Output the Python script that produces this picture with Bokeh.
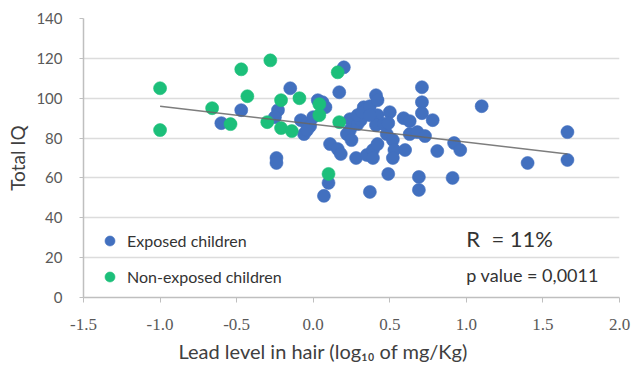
from bokeh.plotting import figure
from bokeh.models import Range1d, Label, Legend, LegendItem, FixedTicker, Title
from bokeh.embed import file_html
from bokeh.resources import INLINE

# ---- data ----
exposed_x = [-0.60, -0.47, -0.15, -0.23, -0.25, -0.24, -0.24, -0.08, -0.04, -0.06,
             -0.02, 0.00, -0.04, 0.03, 0.06, 0.08, 0.20, 0.17, 0.11, 0.16,
             0.18, 0.10, 0.07, 0.24, 0.24, 0.22, 0.25, 0.29, 0.31, 0.29,
             0.33, 0.32, 0.37, 0.41, 0.42, 0.42, 0.41, 0.46, 0.48, 0.50,
             0.49, 0.52, 0.53, 0.52, 0.59, 0.63, 0.60, 0.63, 0.68, 0.73,
             0.28, 0.35, 0.39, 0.42, 0.39, 0.37, 0.49, 0.69, 0.69, 0.91,
             0.71, 0.71, 0.71, 0.78, 0.81, 0.92, 0.96, 1.10, 1.40, 1.66,
             1.66, 0.37]
exposed_y = [87.5, 94, 105, 94, 90.5, 70, 67.5, 89, 87, 82,
             86, 90.5, 84, 99, 98, 95.5, 115.5, 103, 77, 74.5,
             72, 57.5, 51, 89.5, 84, 82, 79, 87, 89, 91.5,
             95.5, 93, 96, 101.5, 99, 91.5, 86.5, 87, 82, 93,
             87.5, 79, 74, 70, 90, 88.5, 74, 82, 83, 81,
             70, 71.5, 74, 77, 70, 53, 62, 60.5, 54, 60,
             105.5, 98, 92.5, 89, 73.5, 77.5, 74, 96, 67.5, 83,
             69, 91.5]

nonexposed_x = [-1.00, -1.00, -0.66, -0.54, -0.47, -0.43, -0.28, -0.30, -0.21, -0.21,
                -0.14, -0.09, 0.04, 0.04, 0.16, 0.17, 0.10]
nonexposed_y = [105, 84, 95, 87, 114.5, 101, 119, 88, 99, 85,
                83.5, 100, 97, 91.5, 113, 88, 62]

trend_x = [-1.00, 1.66]
trend_y = [96.0, 72.0]

x_ticks = [-1.5, -1.0, -0.5, 0.0, 0.5, 1.0, 1.5, 2.0]
y_ticks = [0, 20, 40, 60, 80, 100, 120, 140]

BLUE = "#4270BF"
GREEN = "#1CBF7A"
SANS = "Lato"
SERIF = "Liberation Serif"

p = figure(width=632, height=371, output_backend="svg", toolbar_location=None,
           x_range=Range1d(-1.5, 2.0), y_range=Range1d(0, 140),
           min_border_left=83, min_border_right=13, min_border_top=18, min_border_bottom=74)
p.outline_line_color = None
p.background_fill_color = "white"

# grid
p.xgrid.grid_line_color = None
p.ygrid.grid_line_color = "#DCDCDC"
p.ygrid.grid_line_width = 1.5
p.ygrid.ticker = FixedTicker(ticks=y_ticks)

# axes
p.xaxis.ticker = FixedTicker(ticks=x_ticks)
p.xaxis.major_label_overrides = {t: f"{t:.1f}" for t in x_ticks}
p.xaxis.major_label_text_font = SERIF
p.xaxis.major_label_text_font_size = "17px"
p.xaxis.major_label_text_color = "#595959"
p.xaxis.major_label_standoff = 16
p.xaxis.axis_line_color = "#BFBFBF"
p.xaxis.axis_line_width = 1.5
p.xaxis.major_tick_line_color = "#BFBFBF"
p.xaxis.major_tick_in = 0
p.xaxis.major_tick_out = 5
p.xaxis.minor_tick_line_color = None

p.yaxis.ticker = FixedTicker(ticks=y_ticks)
p.yaxis.major_label_text_font = SANS
p.yaxis.major_label_text_font_size = "15px"
p.yaxis.major_label_text_color = "#595959"
p.yaxis.major_label_standoff = 17
p.yaxis.axis_line_color = "#BFBFBF"
p.yaxis.axis_line_width = 1.5
p.yaxis.major_tick_line_color = "#BFBFBF"
p.yaxis.major_tick_in = 0
p.yaxis.major_tick_out = 4
p.yaxis.minor_tick_line_color = None
p.yaxis.axis_label = "Total IQ"
p.yaxis.axis_label_text_font = SANS
p.yaxis.axis_label_text_font_size = "19px"
p.yaxis.axis_label_text_font_style = "normal"
p.yaxis.axis_label_text_color = "#404040"
p.yaxis.axis_label_standoff = 4

# x-axis title as a below title, left-aligned with an offset
p.add_layout(Title(text="Lead level in hair (log\u2081\u2080 of mg/Kg)", align="left", offset=95,
                   text_font=SANS, text_font_size="20px", text_font_style="normal",
                   text_color="#404040", standoff=9), "below")

# marks
r_exp = p.scatter(exposed_x, exposed_y, size=13, fill_color=BLUE, line_color=BLUE, line_alpha=0.6)
r_non = p.scatter(nonexposed_x, nonexposed_y, size=13, fill_color=GREEN, line_color=GREEN, line_alpha=0.6)
p.line(trend_x, trend_y, line_color="#666666", line_width=1.5, line_alpha=0.85)

legend = Legend(items=[LegendItem(label="Exposed children", renderers=[r_exp]),
                       LegendItem(label="Non-exposed children", renderers=[r_non])],
                location=(14, 8), orientation="vertical",
                glyph_width=25, glyph_height=25, label_height=25, spacing=11,
                label_standoff=5, padding=0, margin=0,
                label_text_font=SANS, label_text_font_size="16px",
                label_text_color="#333333",
                border_line_color=None, background_fill_alpha=0)
p.add_layout(legend, "center")

# statistics text
p.add_layout(Label(x=1.0, y=23.0, text="R \u00a0= 11%", text_font=SANS,
                   text_font_size="22px", text_color="#333333"))
p.add_layout(Label(x=1.0, y=6.0, text="p value = 0,0011", text_font=SANS,
                   text_font_size="18px", text_color="#333333"))

open("out.html", "w").write(file_html(p, INLINE))
